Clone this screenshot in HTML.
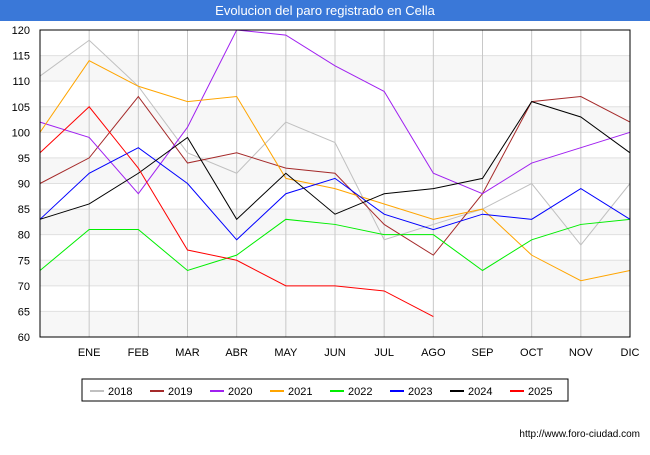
<!DOCTYPE html>
<html><head><meta charset="utf-8"><style>
body{margin:0;width:650px;height:450px;background:#fff;font-family:"Liberation Sans",sans-serif;overflow:hidden}
</style></head><body>
<svg width="650" height="450" id="svg">
<rect x="0" y="0" width="650" height="21" fill="#3a78d8"/>
<text x="325" y="15" text-anchor="middle" fill="#fff" font-size="13">Evolucion del paro registrado en Cella</text>
<g id="grid"></g><g id="series"></g>
<rect x="40" y="30" width="590" height="307" fill="none" stroke="#000" stroke-width="1"/>
<g id="legend"></g>
<text x="640" y="437" text-anchor="end" font-size="10" fill="#000">http://www.foro-ciudad.com</text>
</svg>
<script>
const months=["","ENE","FEB","MAR","ABR","MAY","JUN","JUL","AGO","SEP","OCT","NOV","DIC"];
const yTicks=[60,65,70,75,80,85,90,95,100,105,110,115,120];
const years=["2018","2019","2020","2021","2022","2023","2024","2025"];
const colors=["#c0c0c0","#a52a2a","#a020f0","#ffa500","#00ee00","#0000ff","#000000","#ff0000"];
const s2018=[111,118,109,96,92,102,98,79,82,85,90,78,90];
const s2019=[90,95,107,94,96,93,92,82,76,88,106,107,102];
const s2020=[102,99,88,101,120,119,113,108,92,88,94,97,100];
const s2021=[100,114,109,106,107,91,89,86,83,85,76,71,73];
const s2022=[73,81,81,73,76,83,82,80,80,73,79,82,83];
const s2023=[83,92,97,90,79,88,91,84,81,84,83,89,83];
const s2024=[83,86,92,99,83,92,84,88,89,91,106,103,96];
const s2025=[96,105,93,77,75,70,70,69,64];
const allSeries=[s2018,s2019,s2020,s2021,s2022,s2023,s2024,s2025];
const NS="http://www.w3.org/2000/svg";
const X=i=>40+i*590/12, Y=v=>337-(v-60)*307/60;
function mk(t,a,p){const e=document.createElementNS(NS,t);for(const k in a)e.setAttribute(k,a[k]);p.appendChild(e);return e;}
const grid=document.getElementById('grid');
for(let i=0;i<yTicks.length-1;i++){if(i%2==0){const r=mk('rect',{x:40,y:Y(yTicks[i+1]),width:590,height:Y(yTicks[i])-Y(yTicks[i+1]),fill:'#f7f7f7'},grid);}}
yTicks.forEach(v=>{const l=mk('line',{x1:40,x2:630,y1:Y(v),y2:Y(v),stroke:'#e0e0e0'},grid);
const t=mk('text',{x:30,y:Y(v)+4,'text-anchor':'end','font-size':11},grid);t.textContent=v;});
months.forEach((m,i)=>{if(i>0){const l=mk('line',{x1:X(i),x2:X(i),y1:30,y2:337,stroke:'#c8c8c8'},grid);}
const t=mk('text',{x:X(i),y:356,'text-anchor':'middle','font-size':11},grid);t.textContent=m;});
const sg=document.getElementById('series');
allSeries.forEach((s,k)=>{const p=mk('polyline',{points:s.map((v,i)=>X(i)+','+Y(v)).join(' '),fill:'none',stroke:colors[k],'stroke-width':1},sg);

});
const lg=document.getElementById('legend');
const box=mk('rect',{x:82,y:379,width:486,height:22,fill:'#fff',stroke:'#000'},lg);


years.forEach((y,k)=>{const x0=90+k*60;
const l=mk('line',{x1:x0,x2:x0+14,y1:391,y2:391,stroke:colors[k],'stroke-width':2},lg);


const t=mk('text',{x:x0+18,y:395,'font-size':11},lg);t.textContent=y;

});
</script>
</body></html>
